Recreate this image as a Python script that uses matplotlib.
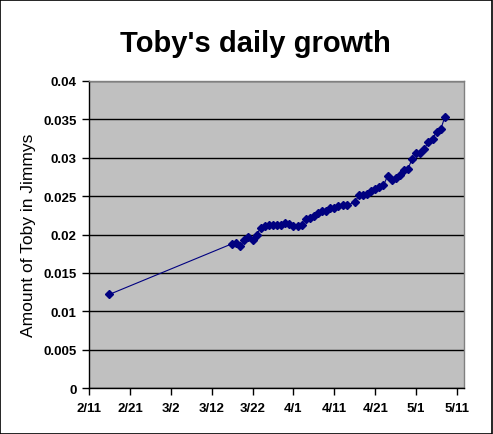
import datetime as dt
import matplotlib
matplotlib.use("Agg")
import matplotlib.pyplot as plt
import matplotlib.dates as mdates
from matplotlib.patches import Rectangle
from matplotlib.ticker import FuncFormatter, MultipleLocator

# measurements (2008, leap year so the 10-day ticks line up)
dates = [
    "2/16", "3/17", "3/18", "3/19", "3/20", "3/21", "3/22", "3/23", "3/24", "3/25",
    "3/26", "3/27", "3/28", "3/29", "3/30", "3/31", "4/1", "4/2", "4/3", "4/4",
    "4/5", "4/6", "4/7", "4/8", "4/9", "4/10", "4/11", "4/12", "4/13", "4/14",
    "4/16", "4/17", "4/18", "4/19", "4/20", "4/21", "4/22", "4/23", "4/24", "4/25",
    "4/26", "4/27", "4/28", "4/29", "4/30", "5/1", "5/2", "5/3", "5/4", "5/5",
    "5/6", "5/7", "5/8",
]
amounts = [
    0.0122, 0.0188, 0.0189, 0.0185, 0.0193, 0.0197, 0.0193, 0.0200, 0.0209, 0.0211,
    0.0212, 0.0213, 0.0213, 0.0213, 0.0215, 0.0214, 0.0211, 0.0211, 0.0212, 0.0220,
    0.0221, 0.0224, 0.0228, 0.0231, 0.0231, 0.0234, 0.0235, 0.0237, 0.0239, 0.0238,
    0.0242, 0.0251, 0.0251, 0.0253, 0.0257, 0.0259, 0.0262, 0.0264, 0.0276, 0.0271,
    0.0274, 0.0277, 0.0284, 0.0285, 0.0299, 0.0306, 0.0306, 0.0312, 0.0320, 0.0325,
    0.0334, 0.0337, 0.0353,
]
YEAR = 2008
x_start = "2/11"
x_span_days = 91.7

title = "Toby's daily growth"
ylabel = "Amount of Toby in Jimmys"


def to_date(s):
    m, d = s.split("/")
    return dt.datetime(YEAR, int(m), int(d))


plt.rcParams["font.family"] = ["Liberation Sans", "DejaVu Sans"]

fig = plt.figure(figsize=(4.93, 4.35), dpi=100)
fig.patch.set_facecolor("white")
fig.patches.append(Rectangle((0.001, 0.001), 0.997, 0.997, transform=fig.transFigure,
                             fill=False, edgecolor="black", linewidth=1.2))

ax = fig.add_axes([0.1805, 0.1057, 0.7607, 0.7058])
ax.set_facecolor("#C0C0C0")

xs = [to_date(s) for s in dates]
ax.plot(xs, amounts, color="#000080", linewidth=0.8, marker="D",
        markersize=4.2, markerfacecolor="#000080", markeredgecolor="#000080", zorder=3)

start = to_date(x_start)
ax.set_xlim(start, start + dt.timedelta(days=x_span_days))
ax.set_ylim(0, 0.04)

ticks = [start + dt.timedelta(days=10 * i) for i in range(10)]
ax.set_xticks(ticks)
ax.xaxis.set_major_formatter(FuncFormatter(
    lambda v, pos: "{}/{}".format(mdates.num2date(v).month, mdates.num2date(v).day)))
ax.yaxis.set_major_locator(MultipleLocator(0.005))
ax.yaxis.set_major_formatter(FuncFormatter(lambda v, pos: "%g" % round(v, 4)))

ax.grid(axis="y", color="black", linewidth=1.0)
ax.set_axisbelow(True)

for side in ("top", "right"):
    ax.spines[side].set_color("#808080")
    ax.spines[side].set_linewidth(1.0)
for side in ("left", "bottom"):
    ax.spines[side].set_color("black")
    ax.spines[side].set_linewidth(1.0)

ax.tick_params(axis="both", direction="out", length=5, width=1, color="black",
               labelsize=9.5)
ax.tick_params(axis="y", pad=4)
ax.tick_params(axis="x", pad=5)
for lbl in ax.get_xticklabels() + ax.get_yticklabels():
    lbl.set_fontweight("bold")

ax.set_ylabel(ylabel, fontsize=12.5)
ax.yaxis.set_label_coords(-0.14, 0.5)

fig.text(0.517, 0.899, title, ha="center", va="center", fontsize=21, fontweight="bold")

fig.savefig("out.png", dpi=100, facecolor=fig.get_facecolor())
